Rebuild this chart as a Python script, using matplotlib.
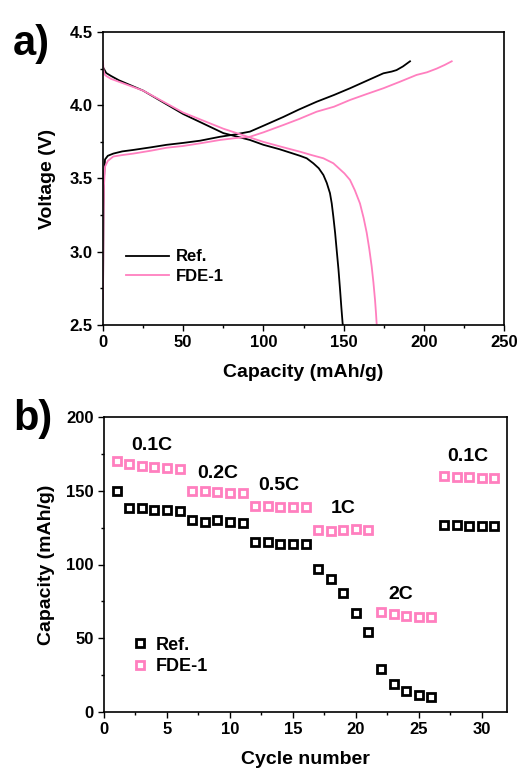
import matplotlib
matplotlib.use("Agg")
import matplotlib.pyplot as plt
from matplotlib.ticker import MultipleLocator

plt.rcParams['font.family'] = ['Liberation Sans', 'DejaVu Sans']
plt.rcParams['font.weight'] = 'bold'

PINK = '#FF7FBF'

# ---- panel a data: voltage profiles ----
ref_dis_cap = [0, 1, 2, 5, 10, 25, 50, 75, 91.6, 100, 110, 122.8, 127, 131.1, 134.5, 137.4, 139.5, 141.5, 142.6, 143.6, 144.7, 145.7, 146.8, 147.8, 148.6, 149.4, 149.6]
ref_dis_v   = [4.26, 4.24, 4.22, 4.20, 4.17, 4.10, 3.94, 3.81, 3.763, 3.73, 3.70, 3.655, 3.638, 3.604, 3.57, 3.524, 3.47, 3.40, 3.33, 3.24, 3.13, 3.01, 2.88, 2.74, 2.62, 2.51, 2.50]
ref_chg_cap = [0, 0.3, 0.6, 1, 1.25, 3, 6.4, 12, 18.9, 30, 39.7, 50, 60.5, 73, 82, 91.6, 100, 112.4, 122, 133.2, 144, 154, 165, 174.8, 180, 183, 187, 191.4]
ref_chg_v   = [2.68, 3.30, 3.50, 3.58, 3.63, 3.655, 3.67, 3.685, 3.695, 3.713, 3.73, 3.743, 3.758, 3.785, 3.80, 3.82, 3.86, 3.92, 3.97, 4.024, 4.07, 4.116, 4.17, 4.218, 4.23, 4.24, 4.265, 4.30]
fde_dis_cap = [0, 0.3, 1, 2, 5, 10, 25, 50, 75, 91.6, 100, 110, 122.8, 130, 137.4, 143.6, 147, 150.5, 154, 157, 160.2, 162.5, 164.4, 166, 167.5, 168.6, 169.6, 170.2, 170.6]
fde_dis_v   = [4.30, 4.24, 4.21, 4.20, 4.18, 4.16, 4.10, 3.95, 3.84, 3.78, 3.75, 3.72, 3.683, 3.66, 3.638, 3.604, 3.57, 3.535, 3.49, 3.42, 3.33, 3.23, 3.13, 3.02, 2.90, 2.79, 2.67, 2.58, 2.51]
fde_chg_cap = [0, 0.3, 0.6, 1, 1.25, 3, 6.4, 12, 18.9, 30, 39.7, 50, 60.5, 73, 82, 91.6, 100, 112.4, 122, 133.2, 144, 154, 164, 174.8, 185, 195.5, 202, 208, 213, 217.4]
fde_chg_v   = [2.68, 3.25, 3.45, 3.53, 3.58, 3.62, 3.65, 3.66, 3.67, 3.69, 3.71, 3.722, 3.74, 3.763, 3.775, 3.785, 3.815, 3.865, 3.905, 3.956, 3.99, 4.036, 4.075, 4.116, 4.16, 4.207, 4.225, 4.25, 4.275, 4.30]

# ---- panel b data: rate capability ----
cycles = list(range(1, 32))
ref_cap = [150, 138, 138, 137, 137, 136,
           130, 129, 130, 129, 128,
           115, 115, 114, 114, 114,
           97, 90, 81, 67, 54,
           29, 19, 14.5, 11.5, 10,
           127, 127, 126, 126, 126]
fde_cap = [170, 168, 167, 166, 165.5, 164.7,
           150, 149.6, 149, 148.7, 148.2,
           140, 139.9, 139.2, 139, 138.8,
           123.6, 123, 123.6, 124.3, 123.4,
           67.8, 66.7, 65.3, 64.2, 64.6,
           160, 159.5, 159, 158.6, 158.4]
rate_labels = ['0.1C', '0.2C', '0.5C', '1C', '2C', '0.1C']
rate_x = [3.8, 9.0, 13.9, 19.0, 23.6, 28.9]
rate_y = [181, 162, 153.5, 138, 79.5, 173]

W, H = 521, 774
fig = plt.figure(figsize=(W / 100, H / 100), dpi=100)

def ax_at(l, t, r, b):
    return fig.add_axes([l / W, 1 - b / H, (r - l) / W, (b - t) / H])

def style(ax):
    ax.tick_params(which='both', direction='out', labelsize=12, width=1.0)
    ax.tick_params(which='major', length=4)
    ax.tick_params(which='minor', length=2.5)
    for s in ax.spines.values():
        s.set_linewidth(1.2)
    for lab in ax.get_xticklabels() + ax.get_yticklabels():
        lab.set_fontweight('bold')

# panel a
axa = ax_at(103, 32, 504, 325)
axa.plot(ref_dis_cap, ref_dis_v, color='black', lw=1.3, label='Ref.')
axa.plot(ref_chg_cap, ref_chg_v, color='black', lw=1.3)
axa.plot(fde_dis_cap, fde_dis_v, color=PINK, lw=1.3, label='FDE-1')
axa.plot(fde_chg_cap, fde_chg_v, color=PINK, lw=1.3)
axa.set_xlim(0, 250)
axa.set_ylim(2.5, 4.5)
axa.xaxis.set_major_locator(MultipleLocator(50))
axa.xaxis.set_minor_locator(MultipleLocator(25))
axa.yaxis.set_major_locator(MultipleLocator(0.5))
axa.yaxis.set_minor_locator(MultipleLocator(0.25))
axa.set_xlabel('Capacity (mAh/g)', fontsize=14, fontweight='bold', labelpad=10)
axa.set_ylabel('Voltage (V)', fontsize=14, fontweight='bold', labelpad=10)
style(axa)
axa.legend(loc='lower left', bbox_to_anchor=(0.02, 0.09), frameon=False,
           handlelength=2.6, handletextpad=0.4, labelspacing=0.25,
           prop={'weight': 'bold', 'size': 12})
fig.text(13 / W, 1 - 55 / H, 'a)', fontsize=30, fontweight='bold', ha='left', va='baseline')

# panel b
axb = ax_at(104, 417, 507, 712)
axb.plot(cycles, ref_cap, ls='none', marker='s', ms=6, mfc='none', mec='black', mew=2.0, label='Ref.')
axb.plot(cycles, fde_cap, ls='none', marker='s', ms=6, mfc='none', mec=PINK, mew=2.0, label='FDE-1')
axb.set_xlim(0, 32)
axb.set_ylim(0, 200)
axb.xaxis.set_major_locator(MultipleLocator(5))
axb.xaxis.set_minor_locator(MultipleLocator(2.5))
axb.yaxis.set_major_locator(MultipleLocator(50))
axb.yaxis.set_minor_locator(MultipleLocator(25))
axb.set_xlabel('Cycle number', fontsize=14, fontweight='bold', labelpad=10)
axb.set_ylabel('Capacity (mAh/g)', fontsize=14, fontweight='bold', labelpad=8)
style(axb)
for lab, x, y in zip(rate_labels, rate_x, rate_y):
    axb.text(x, y, lab, fontsize=14, fontweight='bold', ha='center', va='center')
axb.legend(loc='lower left', bbox_to_anchor=(0.03, 0.07), frameon=False,
           handlelength=0.8, handletextpad=0.5, labelspacing=0.25,
           prop={'weight': 'bold', 'size': 13})
fig.text(13 / W, 1 - 430 / H, 'b)', fontsize=30, fontweight='bold', ha='left', va='baseline')

fig.savefig('out.png', dpi=100)
